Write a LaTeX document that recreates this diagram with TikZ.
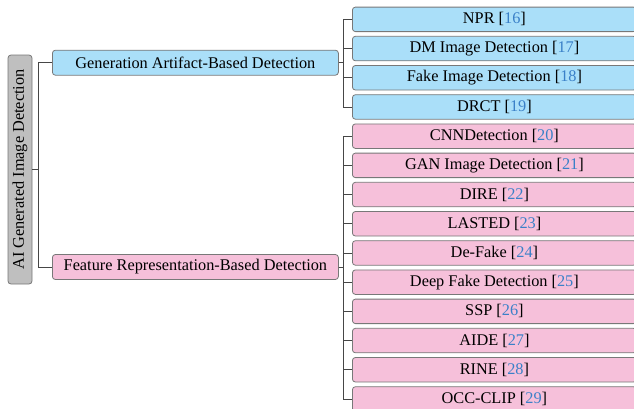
\documentclass[tikz,border=0pt]{standalone}
\usepackage{fontspec}
\setmainfont{Liberation Serif}
\usepackage{tikz}
\usetikzlibrary{positioning}

\newcommand{\refnum}[1]{[\textcolor{citeblue}{#1}]}

\begin{document}
\begin{tikzpicture}[node distance=3.9pt, every node/.style={align=center}]
    % colours
    \definecolor{rootgray}{RGB}{191,191,191}
    \definecolor{genblue}{RGB}{170,223,249}
    \definecolor{featpink}{RGB}{246,192,218}
    \definecolor{edgegray}{RGB}{120,120,120}
    \definecolor{linkgray}{RGB}{70,70,70}
    \definecolor{citeblue}{RGB}{58,128,200}

    % styles
    \tikzstyle{box} = [rectangle, rounded corners=3pt, draw=edgegray, line width=0.8pt, inner sep=0pt, font=\fontsize{16.3}{19}\selectfont]
    \tikzstyle{root} = [box, fill=rootgray, minimum width=24pt, minimum height=229pt]
    \tikzstyle{branch} = [box, minimum width=286pt, minimum height=25pt]
    \tikzstyle{leaf} = [box, minimum width=284pt, minimum height=24.5pt]
    \tikzstyle{link} = [draw=linkgray, line width=0.8pt]

    \useasboundingbox (0,0) rectangle (634pt,-408pt);
    \clip (0,0) rectangle (634pt,-408pt);

    % root
    \node[root] (root) at (20pt,-169.5pt) {\rotatebox{90}{AI Generated Image Detection}};

    % two branches
    \node[branch, fill=genblue, anchor=west] (gen) at (52pt,-62.7pt) {Generation Artifact-Based Detection};
    \node[branch, fill=featpink, anchor=west] (feat) at (52pt,-267pt) {Feature Representation-Based Detection};

    % generation artifact leaves
    \node[leaf, fill=genblue, anchor=north west] (npr) at (352pt,-6.7pt) {NPR \refnum{16}};
    \node[leaf, fill=genblue, below=of npr] (dm) {DM Image Detection \refnum{17}};
    \node[leaf, fill=genblue, below=of dm] (fake) {Fake Image Detection \refnum{18}};
    \node[leaf, fill=genblue, below=of fake] (drct) {DRCT \refnum{19}};

    % feature representation leaves
    \node[leaf, fill=featpink, below=of drct] (cnn) {CNNDetection \refnum{20}};
    \node[leaf, fill=featpink, below=of cnn] (gan) {GAN Image Detection \refnum{21}};
    \node[leaf, fill=featpink, below=of gan] (dire) {DIRE \refnum{22}};
    \node[leaf, fill=featpink, below=of dire] (lasted) {LASTED \refnum{23}};
    \node[leaf, fill=featpink, below=of lasted] (defake) {De-Fake \refnum{24}};
    \node[leaf, fill=featpink, below=of defake] (deepfake) {Deep Fake Detection \refnum{25}};
    \node[leaf, fill=featpink, below=of deepfake] (ssp) {SSP \refnum{26}};
    \node[leaf, fill=featpink, below=of ssp] (aide) {AIDE \refnum{27}};
    \node[leaf, fill=featpink, below=of aide] (rine) {RINE \refnum{28}};
    \node[leaf, fill=featpink, below=of rine] (occ) {OCC-CLIP \refnum{29}};

    % connectors
    \draw[link] (root.east) -- ++(6pt,0) |- (gen.west);
    \draw[link] (root.east) -- ++(6pt,0) |- (feat.west);

    \draw[link] (gen.east) -- ++(5pt,0) |- (npr.west);
    \draw[link] (gen.east) -- ++(5pt,0) |- (dm.west);
    \draw[link] (gen.east) -- ++(5pt,0) |- (fake.west);
    \draw[link] (gen.east) -- ++(5pt,0) |- (drct.west);

    \draw[link] (feat.east) -- ++(5pt,0) |- (cnn.west);
    \draw[link] (feat.east) -- ++(5pt,0) |- (gan.west);
    \draw[link] (feat.east) -- ++(5pt,0) |- (dire.west);
    \draw[link] (feat.east) -- ++(5pt,0) |- (lasted.west);
    \draw[link] (feat.east) -- ++(5pt,0) |- (defake.west);
    \draw[link] (feat.east) -- ++(5pt,0) |- (deepfake.west);
    \draw[link] (feat.east) -- ++(5pt,0) |- (ssp.west);
    \draw[link] (feat.east) -- ++(5pt,0) |- (aide.west);
    \draw[link] (feat.east) -- ++(5pt,0) |- (rine.west);
    \draw[link] (feat.east) -- ++(5pt,0) |- (occ.west);
  \end{tikzpicture}
\end{document}
